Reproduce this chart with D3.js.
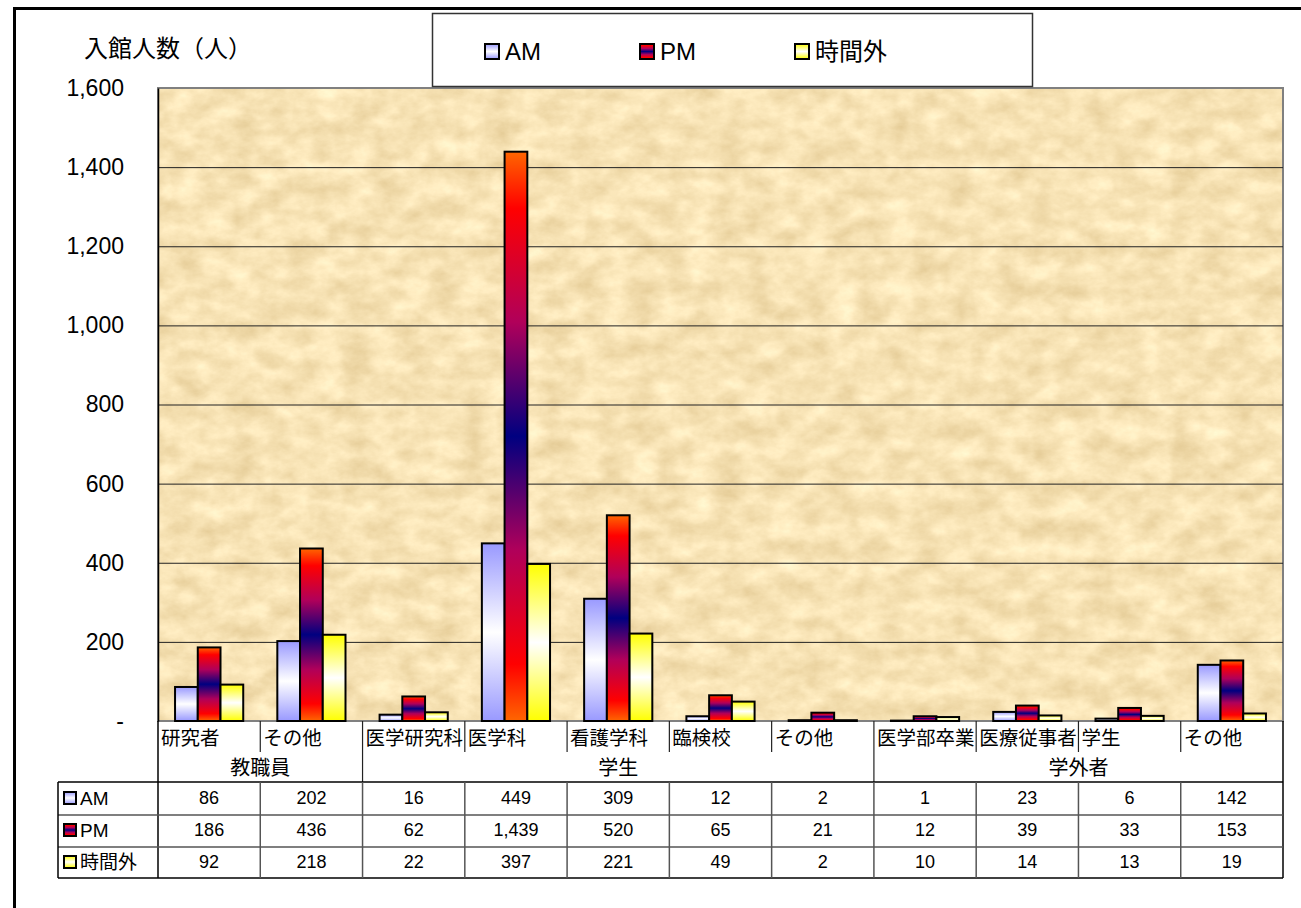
<!DOCTYPE html>
<html>
<head>
<meta charset="utf-8">
<script src="https://cdn.jsdelivr.net/npm/d3@7"></script>
<style>
  body { margin: 0; background: #fff; }
  svg { display: block; }
  text { font-family: "Liberation Sans", "Noto Sans CJK JP", sans-serif; fill: #000; }
</style>
</head>
<body>
<svg width="1301" height="908"></svg>
<script>
const categories = ["研究者", "その他", "医学研究科", "医学科", "看護学科", "臨検校", "その他", "医学部卒業", "医療従事者", "学生", "その他"];
const groups = [
  { name: "教職員", from: 0, to: 2 },
  { name: "学生", from: 2, to: 7 },
  { name: "学外者", from: 7, to: 11 }
];
const seriesNames = ["AM", "PM", "時間外"];
const amValues = [86, 202, 16, 449, 309, 12, 2, 1, 23, 6, 142];
const pmValues = [186, 436, 62, 1439, 520, 65, 21, 12, 39, 33, 153];
const offValues = [92, 218, 22, 397, 221, 49, 2, 10, 14, 13, 19];
const yTicks = [0, 200, 400, 600, 800, 1000, 1200, 1400, 1600];

const series = [
  { name: seriesNames[0], values: amValues, grad: "gAM" },
  { name: seriesNames[1], values: pmValues, grad: "gPM" },
  { name: seriesNames[2], values: offValues, grad: "gOff" }
];

const svg = d3.select("svg");
const plotLeft = 158, plotRight = 1283, plotTop = 88, plotBottom = 721;

// outer frame
svg.append("rect")
  .attr("x", 14.5).attr("y", 8.5)
  .attr("width", 1320).attr("height", 1000)
  .attr("fill", "#fff").attr("stroke", "#000").attr("stroke-width", 3);

const defs = svg.append("defs");

function addGradient(id, stops) {
  const g = defs.append("linearGradient")
    .attr("id", id).attr("x1", 0).attr("y1", 0).attr("x2", 0).attr("y2", 1);
  stops.forEach(s => g.append("stop").attr("offset", s[0]).attr("stop-color", s[1]));
}
addGradient("gAM", [[0, "#9999ff"], [0.5, "#ffffff"], [1, "#9999ff"]]);
addGradient("gPM", [[0, "#ff6600"], [0.1, "#ff0000"], [0.3, "#b0005a"], [0.5, "#000080"], [0.7, "#b0005a"], [0.9, "#ff0000"], [1, "#ff6600"]]);
addGradient("gOff", [[0, "#ffff00"], [0.5, "#ffffff"], [1, "#ffff00"]]);

// parchment texture
const filt = defs.append("filter").attr("id", "paper")
  .attr("x", 0).attr("y", 0).attr("width", 1).attr("height", 1)
  .attr("color-interpolation-filters", "sRGB");
filt.append("feTurbulence")
  .attr("type", "fractalNoise").attr("baseFrequency", "0.035 0.05")
  .attr("numOctaves", 5).attr("seed", 11);
filt.append("feColorMatrix").attr("type", "matrix")
  .attr("values", "0.16 0 0 0 0.89  0.2 0 0 0 0.79  0.26 0 0 0 0.58  0 0 0 0 1");

const x = d3.scaleBand().domain(d3.range(categories.length)).range([plotLeft, plotRight]).paddingInner(0).paddingOuter(0);
const xs = d3.scaleBand().domain(seriesNames).range([0, x.bandwidth()]).paddingInner(0).paddingOuter(0.75);
const y = d3.scaleLinear().domain([0, 1600]).range([plotBottom, plotTop]);

// plot area
svg.append("rect")
  .attr("x", plotLeft).attr("y", plotTop)
  .attr("width", plotRight - plotLeft).attr("height", plotBottom - plotTop)
  .attr("filter", "url(#paper)");
svg.append("rect")
  .attr("x", plotLeft).attr("y", plotTop)
  .attr("width", plotRight - plotLeft).attr("height", plotBottom - plotTop)
  .attr("fill", "none").attr("stroke", "#808080").attr("stroke-width", 2);

// gridlines
svg.append("g")
  .attr("transform", `translate(${plotLeft},0)`)
  .call(d3.axisLeft(y).tickValues(yTicks.slice(1, -1)).tickSize(-(plotRight - plotLeft)).tickFormat(""))
  .call(g => g.select(".domain").remove())
  .call(g => g.selectAll("line").attr("stroke", "#222").attr("stroke-width", 1));

// y axis
svg.append("g")
  .attr("transform", `translate(${plotLeft},0)`)
  .call(d3.axisLeft(y).tickValues(yTicks).tickSize(0).tickPadding(34)
    .tickFormat(d => d === 0 ? "-" : d3.format(",")(d)))
  .call(g => g.select(".domain").attr("stroke", "#000").attr("stroke-width", 1.5))
  .call(g => g.selectAll("text").attr("font-size", 23).attr("font-family", "Liberation Sans, sans-serif"));

// bars
const catG = svg.append("g").selectAll("g")
  .data(categories.map((c, i) => i))
  .join("g")
  .attr("transform", i => `translate(${x(i)},0)`);

catG.selectAll("rect")
  .data(i => series.map(s => ({ name: s.name, grad: s.grad, v: s.values[i] })))
  .join("rect")
  .attr("x", d => xs(d.name))
  .attr("y", d => y(d.v))
  .attr("width", xs.bandwidth())
  .attr("height", d => y(0) - y(d.v))
  .attr("fill", d => `url(#${d.grad})`)
  .attr("stroke", "#000").attr("stroke-width", 2);

// category label area
const labRow1 = 752, labRow2 = 782;

svg.append("g").selectAll("text")
  .data(categories)
  .join("text")
  .attr("x", (d, i) => x(i) + 3)
  .attr("y", 745)
  .attr("font-size", 19.5)
  .text(d => d);

const groupStarts = groups.map(g => g.from);
const innerBounds = d3.range(1, categories.length).filter(i => !groupStarts.includes(i));
svg.append("g").selectAll("line")
  .data(innerBounds)
  .join("line")
  .attr("x1", i => x(i)).attr("x2", i => x(i))
  .attr("y1", plotBottom).attr("y2", labRow1)
  .attr("stroke", "#222").attr("stroke-width", 1.2);

svg.append("g").selectAll("line")
  .data(groups.slice(1))
  .join("line")
  .attr("x1", g => x(g.from)).attr("x2", g => x(g.from))
  .attr("y1", plotBottom).attr("y2", labRow2)
  .attr("stroke", "#222").attr("stroke-width", 1.2);

svg.append("g").selectAll("text")
  .data(groups)
  .join("text")
  .attr("x", g => (x(g.from) + x(g.to - 1) + x.bandwidth()) / 2)
  .attr("y", 775)
  .attr("text-anchor", "middle")
  .attr("font-size", 20)
  .text(g => g.name);

svg.append("line")
  .attr("x1", plotLeft).attr("x2", plotLeft).attr("y1", plotBottom).attr("y2", 878)
  .attr("stroke", "#000").attr("stroke-width", 1.5);
svg.append("line")
  .attr("x1", plotRight).attr("x2", plotRight).attr("y1", plotBottom).attr("y2", 878)
  .attr("stroke", "#000").attr("stroke-width", 1.5);

// data table
const tableLeft = 58;
const rowY = d3.scaleBand().domain(seriesNames).range([782, 878]);

svg.append("g").selectAll("line")
  .data([782, 815, 847, 878])
  .join("line")
  .attr("x1", tableLeft).attr("x2", plotRight)
  .attr("y1", d => d).attr("y2", d => d)
  .attr("stroke", (d, i) => (i === 0 || i === 3) ? "#000" : "#555")
  .attr("stroke-width", 1.5);

svg.append("line")
  .attr("x1", tableLeft).attr("x2", tableLeft).attr("y1", 782).attr("y2", 878)
  .attr("stroke", "#000").attr("stroke-width", 1.5);

svg.append("g").selectAll("line")
  .data(d3.range(1, categories.length))
  .join("line")
  .attr("x1", i => x(i)).attr("x2", i => x(i))
  .attr("y1", 782).attr("y2", 878)
  .attr("stroke", "#555").attr("stroke-width", 1.5);

const rows = svg.append("g").selectAll("g")
  .data(series)
  .join("g")
  .attr("transform", s => `translate(0,${rowY(s.name) + rowY.bandwidth() / 2})`);

rows.append("rect")
  .attr("x", 64).attr("y", -6)
  .attr("width", 12).attr("height", 12)
  .attr("fill", s => `url(#${s.grad})`)
  .attr("stroke", "#000").attr("stroke-width", 2);

rows.append("text")
  .attr("x", 80).attr("y", 0)
  .attr("dy", "0.36em")
  .attr("font-size", 19)
  .text(s => s.name);

rows.selectAll("text.val")
  .data(s => s.values)
  .join("text")
  .attr("class", "val")
  .attr("x", (d, i) => x(i) + x.bandwidth() / 2)
  .attr("y", 0).attr("dy", "0.36em")
  .attr("text-anchor", "middle")
  .attr("font-size", 18)
  .text(d => d3.format(",")(d));

// y title
svg.append("text")
  .attr("x", 84).attr("y", 57)
  .attr("font-size", 24)
  .text("入館人数（人）");

// legend
svg.append("rect")
  .attr("x", 432.5).attr("y", 13.5)
  .attr("width", 600).attr("height", 73)
  .attr("fill", "#fff").attr("stroke", "#333").attr("stroke-width", 1.5);

const legend = svg.append("g").selectAll("g")
  .data(series)
  .join("g")
  .attr("transform", (s, i) => `translate(${485 + i * 155},51)`);

legend.append("rect")
  .attr("x", 0).attr("y", -7)
  .attr("width", 14).attr("height", 15)
  .attr("fill", s => `url(#${s.grad})`)
  .attr("stroke", "#000").attr("stroke-width", 2);

legend.append("text")
  .attr("x", 20).attr("y", 0).attr("dy", "0.36em")
  .attr("font-size", 24)
  .text(s => s.name);
</script>
</body>
</html>
